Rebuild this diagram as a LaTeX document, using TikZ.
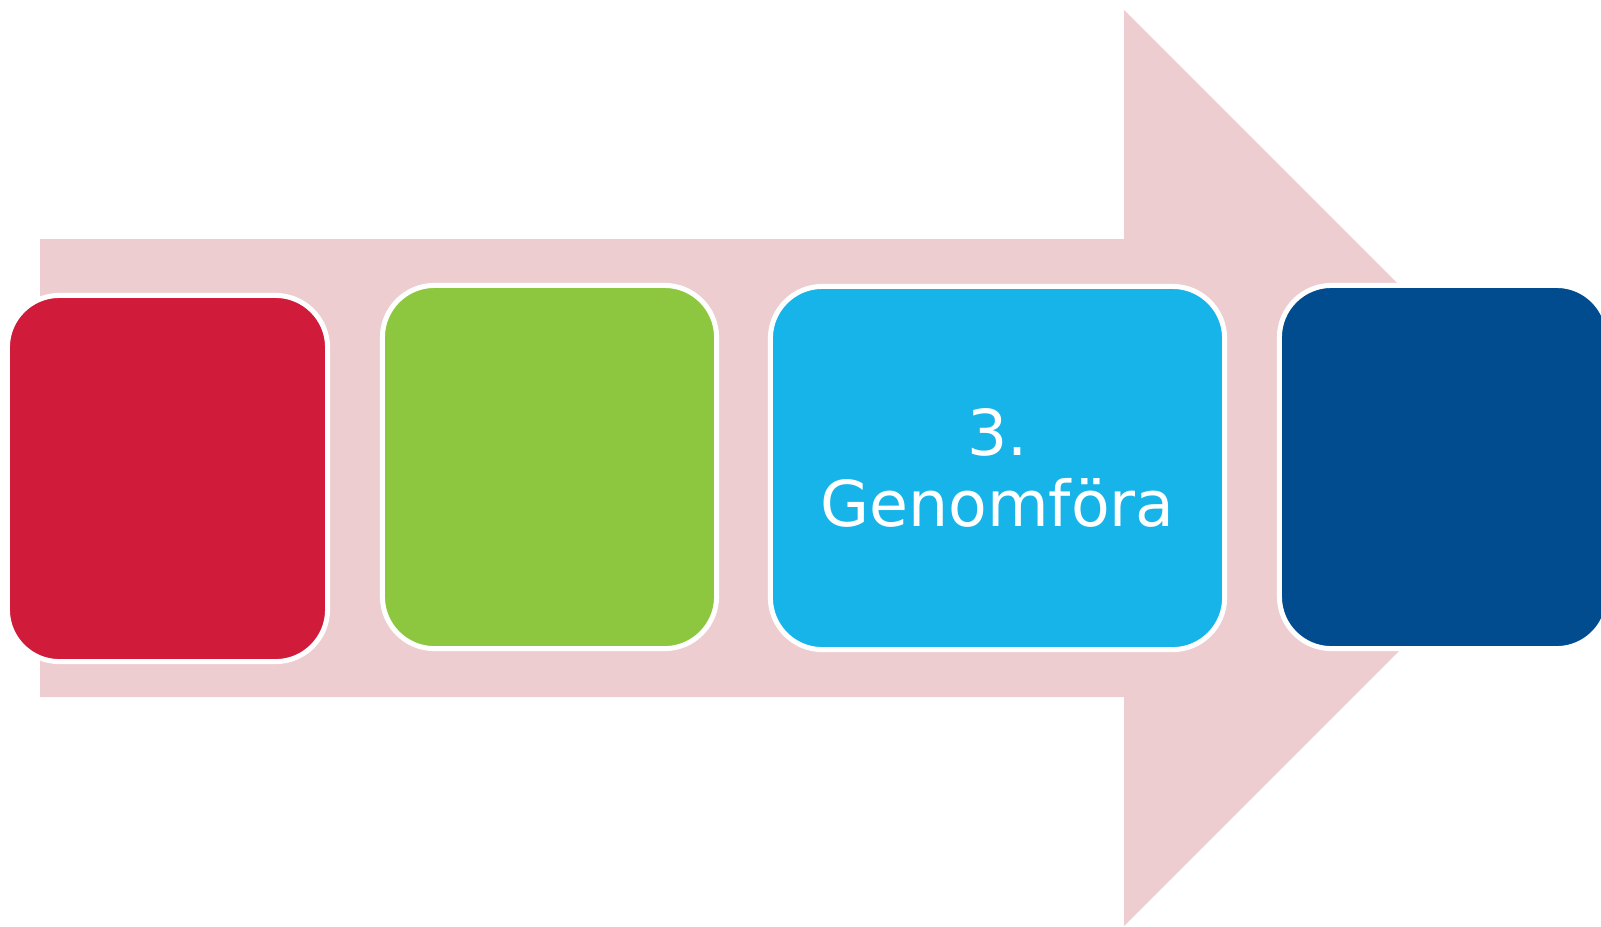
\documentclass[tikz,border=0pt]{standalone}
\usepackage{fontspec}
\setmainfont{DejaVu Sans}
\definecolor{arrowpink}{RGB}{237,205,207}
\definecolor{redbox}{RGB}{209,27,58}
\definecolor{greenbox}{RGB}{141,198,63}
\definecolor{cyanbox}{RGB}{22,180,233}
\definecolor{navybox}{RGB}{0,76,143}
\begin{document}
\begin{tikzpicture}[x=0.01cm, y=-0.01cm,
  phase/.style={rectangle, rounded corners=0.52cm, draw=white, line width=0.05cm,
    inner sep=0pt, outer sep=0pt, minimum height=3.63cm, text=white,
    align=center, font=\fontsize{18}{20.4}\selectfont}]
  \useasboundingbox (0,0) rectangle (1601,926);

  \fill[arrowpink] (40,239) -- (1124,239) -- (1124,10) -- (1582,468)
    -- (1124,926) -- (1124,697) -- (40,697) -- cycle;

  \node[phase, fill=redbox, minimum width=3.20cm, minimum height=3.66cm] (plan) at (167.5,478.5) {};
  \node[phase, fill=greenbox, minimum width=3.34cm] (prep) at (549.5,467) {};
  \node[phase, fill=cyanbox, minimum width=4.54cm] (exec) at (997.5,468) {3.\\Genomföra};
  \node[phase, fill=navybox, minimum width=3.29cm] (eval) at (1444,467) {};
\end{tikzpicture}
\end{document}
